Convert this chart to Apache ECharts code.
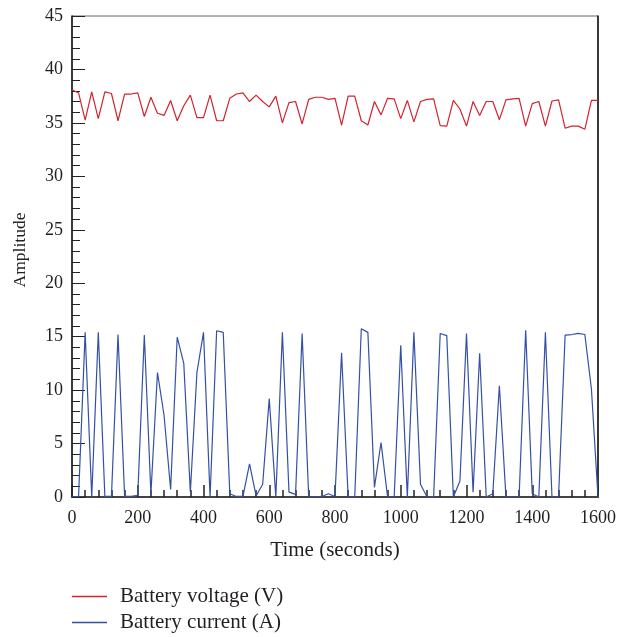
<!DOCTYPE html>
<html>
<head>
<meta charset="utf-8">
<script src="https://cdn.jsdelivr.net/npm/echarts@6/dist/echarts.min.js"></script>
<style>
html,body{margin:0;padding:0;background:#fff;}
#chart{width:621px;height:637px;}
</style>
</head>
<body>
<div id="chart"></div>
<script>
var timeSeconds = [0,20,40,60,80,100,120,140,160,180,200,220,240,260,280,300,320,340,360,380,400,420,440,460,480,500,520,540,560,580,600,620,640,660,680,700,720,740,760,780,800,820,840,860,880,900,920,940,960,980,1000,1020,1040,1060,1080,1100,1120,1140,1160,1180,1200,1220,1240,1260,1280,1300,1320,1340,1360,1380,1400,1420,1440,1460,1480,1500,1520,1540,1560,1580,1600];
var batteryVoltage = [38.1,37.8,35.25,37.9,35.4,37.9,37.75,35.2,37.7,37.7,37.8,35.6,37.4,35.9,35.7,37.1,35.2,36.6,37.6,35.5,35.5,37.6,35.2,35.2,37.3,37.7,37.8,37.0,37.6,37.0,36.5,37.5,35.0,36.9,37.0,34.9,37.2,37.4,37.4,37.2,37.3,34.8,37.5,37.5,35.2,34.8,37.0,35.75,37.3,37.25,35.4,37.1,35.1,37.0,37.2,37.25,34.75,34.7,37.1,36.3,34.7,37.0,35.7,37.0,37.0,35.3,37.15,37.25,37.3,34.7,36.8,37.0,34.7,37.05,37.15,34.5,34.7,34.7,34.4,37.1,37.1];
var batteryCurrent = [0,0.05,15.4,0,15.4,0.05,0.05,15.2,0.05,0.05,0.15,15.15,0.3,11.65,7.65,0.7,14.95,12.5,0.45,11.65,15.4,0,15.55,15.4,0.3,0.05,0.05,3.1,0.1,1.2,9.2,0,15.4,0.45,0.25,15.3,0,0,0.05,0.3,0.05,13.5,0,0,15.75,15.4,0.9,5.1,0,0,14.2,0,15.4,1.2,0,0,15.3,15.1,0,1.5,15.3,0.45,13.45,0,0.3,10.4,0,0,0,15.6,0.3,0,15.4,0,0,15.15,15.2,15.3,15.2,10.1,0];
var seriesNames = ['Battery voltage (V)','Battery current (A)'];
var xTitle = 'Time (seconds)';
var yTitle = 'Amplitude';

function pairs(vals){ return timeSeconds.map(function(t,i){ return [t, vals[i]]; }); }

var FONT = '"Liberation Serif", "Times New Roman", serif';
var TXT = '#231f20';
var chart = echarts.init(document.getElementById('chart'), null, {renderer:'canvas'});
chart.setOption({
  animation:false,
  backgroundColor:'#ffffff',
  grid:{left:72,right:23,top:16,bottom:140,show:true,borderColor:'#666',borderWidth:1,backgroundColor:'transparent'},
  legend:{
    orient:'vertical', left:72, top:586, height:70, padding:0,
    itemWidth:35, itemHeight:1.5, itemGap:5, icon:'rect',
    data:seriesNames,
    textStyle:{fontFamily:FONT,fontSize:21,color:TXT,padding:[0,0,0,8]}
  },
  xAxis:[{
    type:'value', min:0, max:1600, interval:200,
    name:xTitle, nameLocation:'middle', nameGap:43,
    nameTextStyle:{fontFamily:FONT,fontSize:21,color:TXT},
    axisLine:{show:true,lineStyle:{color:'#444',width:2}},
    axisTick:{show:true,inside:true,length:12,lineStyle:{color:'#222',width:1.5}},
    minorTick:{show:true,splitNumber:5,length:7,lineStyle:{color:'#222',width:1.5}},
    axisLabel:{fontFamily:FONT,fontSize:18,color:TXT,margin:12,formatter:function(v){return String(v);}},
    splitLine:{show:false}
  }],
  yAxis:[{
    type:'value', min:0, max:45, interval:5,
    name:yTitle, nameLocation:'middle', nameGap:43, nameRotate:90,
    nameTextStyle:{fontFamily:FONT,fontSize:17.5,color:TXT,padding:[0,0,0,13]},
    axisLine:{show:true,lineStyle:{color:'#111',width:1.5}},
    axisTick:{show:true,inside:true,length:13,lineStyle:{color:'#222',width:1}},
    minorTick:{show:true,splitNumber:5,length:8,lineStyle:{color:'#222',width:1}},
    axisLabel:{fontFamily:FONT,fontSize:18,color:TXT,margin:9,formatter:function(v){return String(v);}},
    splitLine:{show:false}
  },{
    type:'value', min:0, max:45, position:'right',
    axisLine:{show:true,lineStyle:{color:'#111',width:1.5}},
    axisTick:{show:false}, axisLabel:{show:false}, splitLine:{show:false}
  }],
  series:[{
    name:seriesNames[0], type:'line', data:pairs(batteryVoltage),
    symbol:'none', lineStyle:{color:'#d2232e',width:1.2}, itemStyle:{color:'#d2232e'}
  },{
    name:seriesNames[1], type:'line', data:pairs(batteryCurrent),
    symbol:'none', lineStyle:{color:'#3450a6',width:1.2}, itemStyle:{color:'#3450a6'}
  }]
});
</script>
</body>
</html>
